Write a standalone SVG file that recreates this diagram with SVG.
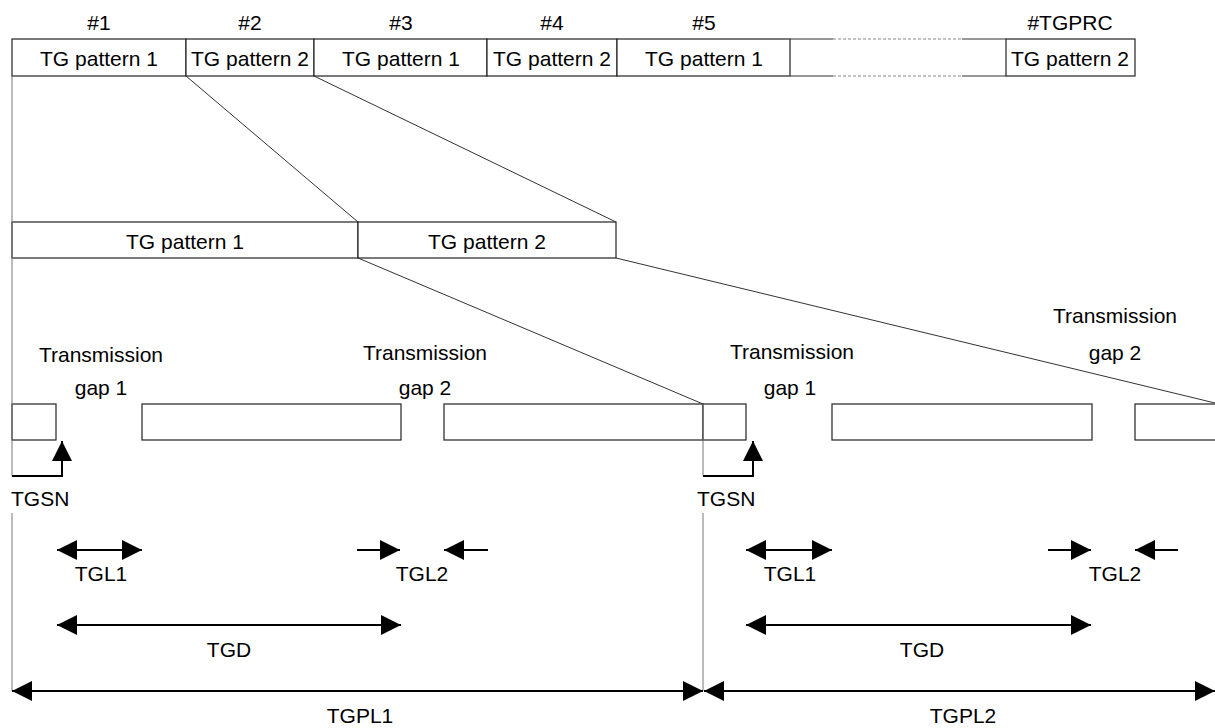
<svg xmlns="http://www.w3.org/2000/svg" width="1215" height="728" viewBox="0 0 1215 728">
<style>
text{font-family:"Liberation Sans",Arial,sans-serif;font-size:21px;fill:#000}
.c{text-anchor:middle}
.box{fill:#fff;stroke:#222;stroke-width:1.2}
.thin{stroke:#333;stroke-width:1;fill:none}
.gray{stroke:#777;stroke-width:1;fill:none}
.dash{stroke:#888;stroke-width:1;stroke-dasharray:3,2;fill:none}
.arr{stroke:#000;stroke-width:2;fill:none}
.dbl{marker-start:url(#ah);marker-end:url(#ah)}
.one{marker-end:url(#ah)}
</style>
<defs>
<marker id="ah" markerUnits="userSpaceOnUse" markerWidth="20" markerHeight="20" refX="20" refY="10" orient="auto-start-reverse">
<path d="M0,0 L20,10 L0,20 Z" fill="#000"/>
</marker>
</defs>
<rect width="1215" height="728" fill="#fff"/>

<g id="top-row">
<text class="c" x="99" y="30">#1</text>
<text class="c" x="250" y="30">#2</text>
<text class="c" x="401" y="30">#3</text>
<text class="c" x="552" y="30">#4</text>
<text class="c" x="704" y="30">#5</text>
<text class="c" x="1070" y="30">#TGPRC</text>
<g id="tp1"><rect class="box" x="12" y="39" width="174" height="37"/><text class="c" x="99" y="66">TG pattern 1</text></g>
<g id="tp2"><rect class="box" x="186" y="39" width="128" height="37"/><text class="c" x="250" y="66">TG pattern 2</text></g>
<g id="tp3"><rect class="box" x="314" y="39" width="173" height="37"/><text class="c" x="401" y="66">TG pattern 1</text></g>
<g id="tp4"><rect class="box" x="487" y="39" width="130" height="37"/><text class="c" x="552" y="66">TG pattern 2</text></g>
<g id="tp5"><rect class="box" x="617" y="39" width="173" height="37"/><text class="c" x="704" y="66">TG pattern 1</text></g>
<g id="tpgap">
<line class="gray" x1="790" y1="39" x2="790" y2="76"/>
<line class="thin" x1="790" y1="39" x2="833" y2="39"/>
<line class="thin" x1="790" y1="76" x2="833" y2="76"/>
<line class="dash" x1="833" y1="39" x2="962" y2="39"/>
<line class="dash" x1="833" y1="76" x2="962" y2="76"/>
<line class="thin" x1="962" y1="39" x2="1006" y2="39"/>
<line class="thin" x1="962" y1="76" x2="1006" y2="76"/>
</g>
<g id="tpN"><rect class="box" x="1006" y="39" width="129" height="37"/><text class="c" x="1070" y="66">TG pattern 2</text></g>
</g>

<g id="mid-row">
<g id="mp1"><rect class="box" x="12" y="222" width="346" height="36"/><text class="c" x="185" y="249">TG pattern 1</text></g>
<g id="mp2"><rect class="box" x="358" y="222" width="258" height="36"/><text class="c" x="487" y="249">TG pattern 2</text></g>
</g>

<g id="slots">
<rect class="box" x="12" y="404" width="44" height="36"/>
<rect class="box" x="142" y="404" width="259" height="36"/>
<rect class="box" x="444" y="404" width="259" height="36"/>
<rect class="box" x="703" y="404" width="43" height="36"/>
<rect class="box" x="832" y="404" width="260" height="36"/>
<rect class="box" x="1135" y="404" width="100" height="36"/>
</g>

<g id="labels">
<text class="c" x="101" y="362">Transmission</text>
<text class="c" x="101" y="395">gap 1</text>
<text class="c" x="425" y="360">Transmission</text>
<text class="c" x="425" y="395">gap 2</text>
<text class="c" x="792" y="359">Transmission</text>
<text class="c" x="790" y="395">gap 1</text>
<text class="c" x="1115" y="323">Transmission</text>
<text class="c" x="1115" y="360">gap 2</text>
<text x="11" y="506">TGSN</text>
<text x="697" y="506">TGSN</text>
<text class="c" x="101" y="581">TGL1</text>
<text class="c" x="422" y="581">TGL2</text>
<text class="c" x="790" y="581">TGL1</text>
<text class="c" x="1115" y="581">TGL2</text>
<text class="c" x="229" y="657">TGD</text>
<text class="c" x="922" y="657">TGD</text>
<text class="c" x="360" y="723">TGPL1</text>
<text class="c" x="963" y="723">TGPL2</text>
</g>

<g id="connectors">
<line class="thin" x1="186" y1="76" x2="358" y2="222"/>
<line class="thin" x1="314" y1="76" x2="616" y2="222"/>
<line class="thin" x1="358" y1="258" x2="703" y2="404"/>
<line class="thin" x1="616" y1="258" x2="1215" y2="403"/>
<line class="gray" x1="12" y1="76" x2="12" y2="476"/>
<line class="gray" x1="12" y1="513" x2="12" y2="691"/>
<line class="gray" x1="703" y1="404" x2="703" y2="476"/>
<line class="gray" x1="703" y1="513" x2="703" y2="691"/>
<polyline class="arr" points="12,476 62,476 62,441" style="marker-end:url(#ah)"/>
<polyline class="arr" points="703,476 753,476 753,441" style="marker-end:url(#ah)"/>
<line class="arr dbl" x1="57" y1="550" x2="142" y2="550"/>
<line class="arr one" x1="357" y1="550" x2="400" y2="550"/>
<line class="arr one" x1="488" y1="550" x2="444" y2="550"/>
<line class="arr dbl" x1="746" y1="550" x2="832" y2="550"/>
<line class="arr one" x1="1048" y1="550" x2="1091" y2="550"/>
<line class="arr one" x1="1178" y1="550" x2="1135" y2="550"/>
<line class="arr dbl" x1="57" y1="625" x2="401" y2="625"/>
<line class="arr dbl" x1="746" y1="625" x2="1091" y2="625"/>
<line class="arr dbl" x1="12" y1="691" x2="703" y2="691"/>
<line class="arr dbl" x1="704" y1="691" x2="1215" y2="691"/>
</g>
</svg>
